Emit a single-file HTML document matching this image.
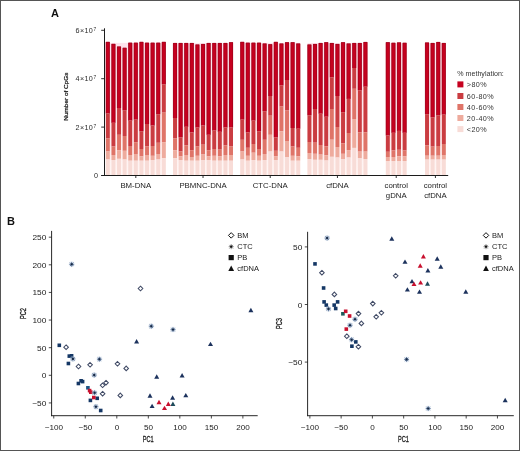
<!DOCTYPE html>
<html><head><meta charset="utf-8"><style>
html,body{margin:0;padding:0;background:#fff;}
svg{display:block;will-change:transform;opacity:0.999;}
text{font-family:"Liberation Sans", sans-serif;}
</style></head><body>
<svg width="520" height="451" viewBox="0 0 520 451">
<defs><linearGradient id="gapg" x1="0" y1="0" x2="0" y2="1"><stop offset="0" stop-color="#fde2ec"/><stop offset="0.55" stop-color="#fdeaee"/><stop offset="1" stop-color="#fff6f4"/></linearGradient></defs>
<rect width="520" height="451" fill="#fff"/>
<rect x="105.85" y="42.90" width="59.95" height="132.10" fill="url(#gapg)"/>
<rect x="173.05" y="43.20" width="59.95" height="131.80" fill="url(#gapg)"/>
<rect x="240.25" y="42.90" width="59.95" height="132.10" fill="url(#gapg)"/>
<rect x="307.45" y="43.00" width="59.95" height="132.00" fill="url(#gapg)"/>
<rect x="385.85" y="43.20" width="20.75" height="131.80" fill="url(#gapg)"/>
<rect x="425.05" y="43.00" width="20.75" height="132.00" fill="url(#gapg)"/>
<rect x="105.85" y="41.90" width="3.95" height="71.60" fill="#c6001f"/>
<rect x="105.85" y="113.50" width="3.95" height="25.00" fill="#ca3c41"/>
<rect x="105.85" y="138.50" width="3.95" height="13.00" fill="#df7468"/>
<rect x="105.85" y="151.50" width="3.95" height="8.00" fill="#eeab9d"/>
<rect x="105.85" y="159.50" width="3.95" height="15.50" fill="#f8dcd7"/>
<path d="M106.15 113.50V42.20H109.50V113.50" fill="none" stroke="#8a0018" stroke-width="0.7" stroke-opacity="0.7"/>
<rect x="111.45" y="43.90" width="3.95" height="78.90" fill="#c6001f"/>
<rect x="111.45" y="122.80" width="3.95" height="23.70" fill="#ca3c41"/>
<rect x="111.45" y="146.50" width="3.95" height="8.50" fill="#df7468"/>
<rect x="111.45" y="155.00" width="3.95" height="5.00" fill="#eeab9d"/>
<rect x="111.45" y="160.00" width="3.95" height="15.00" fill="#f8dcd7"/>
<path d="M111.75 122.80V44.20H115.10V122.80" fill="none" stroke="#8a0018" stroke-width="0.7" stroke-opacity="0.7"/>
<rect x="117.05" y="46.50" width="3.95" height="61.50" fill="#c6001f"/>
<rect x="117.05" y="108.00" width="3.95" height="26.80" fill="#ca3c41"/>
<rect x="117.05" y="134.80" width="3.95" height="15.40" fill="#df7468"/>
<rect x="117.05" y="150.20" width="3.95" height="8.60" fill="#eeab9d"/>
<rect x="117.05" y="158.80" width="3.95" height="16.20" fill="#f8dcd7"/>
<path d="M117.35 108.00V46.80H120.70V108.00" fill="none" stroke="#8a0018" stroke-width="0.7" stroke-opacity="0.7"/>
<rect x="122.65" y="47.80" width="3.95" height="62.40" fill="#c6001f"/>
<rect x="122.65" y="110.20" width="3.95" height="25.80" fill="#ca3c41"/>
<rect x="122.65" y="136.00" width="3.95" height="14.80" fill="#df7468"/>
<rect x="122.65" y="150.80" width="3.95" height="8.70" fill="#eeab9d"/>
<rect x="122.65" y="159.50" width="3.95" height="15.50" fill="#f8dcd7"/>
<path d="M122.95 110.20V48.10H126.30V110.20" fill="none" stroke="#8a0018" stroke-width="0.7" stroke-opacity="0.7"/>
<rect x="128.25" y="42.70" width="3.95" height="77.90" fill="#c6001f"/>
<rect x="128.25" y="120.60" width="3.95" height="25.40" fill="#ca3c41"/>
<rect x="128.25" y="146.00" width="3.95" height="9.00" fill="#df7468"/>
<rect x="128.25" y="155.00" width="3.95" height="5.70" fill="#eeab9d"/>
<rect x="128.25" y="160.70" width="3.95" height="14.30" fill="#f8dcd7"/>
<path d="M128.55 120.60V43.00H131.90V120.60" fill="none" stroke="#8a0018" stroke-width="0.7" stroke-opacity="0.7"/>
<rect x="133.85" y="42.70" width="3.95" height="76.90" fill="#c6001f"/>
<rect x="133.85" y="119.60" width="3.95" height="22.60" fill="#ca3c41"/>
<rect x="133.85" y="142.20" width="3.95" height="11.80" fill="#df7468"/>
<rect x="133.85" y="154.00" width="3.95" height="6.70" fill="#eeab9d"/>
<rect x="133.85" y="160.70" width="3.95" height="14.30" fill="#f8dcd7"/>
<path d="M134.15 119.60V43.00H137.50V119.60" fill="none" stroke="#8a0018" stroke-width="0.7" stroke-opacity="0.7"/>
<rect x="139.45" y="41.90" width="3.95" height="89.30" fill="#c6001f"/>
<rect x="139.45" y="131.20" width="3.95" height="17.80" fill="#ca3c41"/>
<rect x="139.45" y="149.00" width="3.95" height="7.40" fill="#df7468"/>
<rect x="139.45" y="156.40" width="3.95" height="4.30" fill="#eeab9d"/>
<rect x="139.45" y="160.70" width="3.95" height="14.30" fill="#f8dcd7"/>
<path d="M139.75 131.20V42.20H143.10V131.20" fill="none" stroke="#8a0018" stroke-width="0.7" stroke-opacity="0.7"/>
<rect x="145.05" y="42.70" width="3.95" height="81.30" fill="#c6001f"/>
<rect x="145.05" y="124.00" width="3.95" height="22.50" fill="#ca3c41"/>
<rect x="145.05" y="146.50" width="3.95" height="8.50" fill="#df7468"/>
<rect x="145.05" y="155.00" width="3.95" height="5.70" fill="#eeab9d"/>
<rect x="145.05" y="160.70" width="3.95" height="14.30" fill="#f8dcd7"/>
<path d="M145.35 124.00V43.00H148.70V124.00" fill="none" stroke="#8a0018" stroke-width="0.7" stroke-opacity="0.7"/>
<rect x="150.65" y="42.70" width="3.95" height="82.80" fill="#c6001f"/>
<rect x="150.65" y="125.50" width="3.95" height="20.50" fill="#ca3c41"/>
<rect x="150.65" y="146.00" width="3.95" height="9.80" fill="#df7468"/>
<rect x="150.65" y="155.80" width="3.95" height="4.20" fill="#eeab9d"/>
<rect x="150.65" y="160.00" width="3.95" height="15.00" fill="#f8dcd7"/>
<path d="M150.95 125.50V43.00H154.30V125.50" fill="none" stroke="#8a0018" stroke-width="0.7" stroke-opacity="0.7"/>
<rect x="156.25" y="42.70" width="3.95" height="71.50" fill="#c6001f"/>
<rect x="156.25" y="114.20" width="3.95" height="28.60" fill="#ca3c41"/>
<rect x="156.25" y="142.80" width="3.95" height="11.20" fill="#df7468"/>
<rect x="156.25" y="154.00" width="3.95" height="5.50" fill="#eeab9d"/>
<rect x="156.25" y="159.50" width="3.95" height="15.50" fill="#f8dcd7"/>
<path d="M156.55 114.20V43.00H159.90V114.20" fill="none" stroke="#8a0018" stroke-width="0.7" stroke-opacity="0.7"/>
<rect x="161.85" y="41.90" width="3.95" height="42.40" fill="#c6001f"/>
<rect x="161.85" y="84.30" width="3.95" height="28.30" fill="#ca3c41"/>
<rect x="161.85" y="112.60" width="3.95" height="29.60" fill="#df7468"/>
<rect x="161.85" y="142.20" width="3.95" height="16.00" fill="#eeab9d"/>
<rect x="161.85" y="158.20" width="3.95" height="16.80" fill="#f8dcd7"/>
<path d="M162.15 84.30V42.20H165.50V84.30" fill="none" stroke="#8a0018" stroke-width="0.7" stroke-opacity="0.7"/>
<rect x="173.05" y="43.00" width="3.95" height="75.00" fill="#c6001f"/>
<rect x="173.05" y="118.00" width="3.95" height="20.50" fill="#ca3c41"/>
<rect x="173.05" y="138.50" width="3.95" height="11.70" fill="#df7468"/>
<rect x="173.05" y="150.20" width="3.95" height="8.00" fill="#eeab9d"/>
<rect x="173.05" y="158.20" width="3.95" height="16.80" fill="#f8dcd7"/>
<path d="M173.35 118.00V43.30H176.70V118.00" fill="none" stroke="#8a0018" stroke-width="0.7" stroke-opacity="0.7"/>
<rect x="178.65" y="43.00" width="3.95" height="94.30" fill="#c6001f"/>
<rect x="178.65" y="137.30" width="3.95" height="14.20" fill="#ca3c41"/>
<rect x="178.65" y="151.50" width="3.95" height="4.90" fill="#df7468"/>
<rect x="178.65" y="156.40" width="3.95" height="3.60" fill="#eeab9d"/>
<rect x="178.65" y="160.00" width="3.95" height="15.00" fill="#f8dcd7"/>
<path d="M178.95 137.30V43.30H182.30V137.30" fill="none" stroke="#8a0018" stroke-width="0.7" stroke-opacity="0.7"/>
<rect x="184.25" y="43.00" width="3.95" height="83.80" fill="#c6001f"/>
<rect x="184.25" y="126.80" width="3.95" height="18.50" fill="#ca3c41"/>
<rect x="184.25" y="145.30" width="3.95" height="9.70" fill="#df7468"/>
<rect x="184.25" y="155.00" width="3.95" height="5.70" fill="#eeab9d"/>
<rect x="184.25" y="160.70" width="3.95" height="14.30" fill="#f8dcd7"/>
<path d="M184.55 126.80V43.30H187.90V126.80" fill="none" stroke="#8a0018" stroke-width="0.7" stroke-opacity="0.7"/>
<rect x="189.85" y="43.00" width="3.95" height="89.40" fill="#c6001f"/>
<rect x="189.85" y="132.40" width="3.95" height="17.80" fill="#ca3c41"/>
<rect x="189.85" y="150.20" width="3.95" height="6.80" fill="#df7468"/>
<rect x="189.85" y="157.00" width="3.95" height="3.70" fill="#eeab9d"/>
<rect x="189.85" y="160.70" width="3.95" height="14.30" fill="#f8dcd7"/>
<path d="M190.15 132.40V43.30H193.50V132.40" fill="none" stroke="#8a0018" stroke-width="0.7" stroke-opacity="0.7"/>
<rect x="195.45" y="44.50" width="3.95" height="83.00" fill="#c6001f"/>
<rect x="195.45" y="127.50" width="3.95" height="19.00" fill="#ca3c41"/>
<rect x="195.45" y="146.50" width="3.95" height="9.30" fill="#df7468"/>
<rect x="195.45" y="155.80" width="3.95" height="4.90" fill="#eeab9d"/>
<rect x="195.45" y="160.70" width="3.95" height="14.30" fill="#f8dcd7"/>
<path d="M195.75 127.50V44.80H199.10V127.50" fill="none" stroke="#8a0018" stroke-width="0.7" stroke-opacity="0.7"/>
<rect x="201.05" y="44.00" width="3.95" height="81.50" fill="#c6001f"/>
<rect x="201.05" y="125.50" width="3.95" height="19.20" fill="#ca3c41"/>
<rect x="201.05" y="144.70" width="3.95" height="9.80" fill="#df7468"/>
<rect x="201.05" y="154.50" width="3.95" height="5.50" fill="#eeab9d"/>
<rect x="201.05" y="160.00" width="3.95" height="15.00" fill="#f8dcd7"/>
<path d="M201.35 125.50V44.30H204.70V125.50" fill="none" stroke="#8a0018" stroke-width="0.7" stroke-opacity="0.7"/>
<rect x="206.65" y="43.00" width="3.95" height="91.80" fill="#c6001f"/>
<rect x="206.65" y="134.80" width="3.95" height="15.40" fill="#ca3c41"/>
<rect x="206.65" y="150.20" width="3.95" height="6.20" fill="#df7468"/>
<rect x="206.65" y="156.40" width="3.95" height="3.60" fill="#eeab9d"/>
<rect x="206.65" y="160.00" width="3.95" height="15.00" fill="#f8dcd7"/>
<path d="M206.95 134.80V43.30H210.30V134.80" fill="none" stroke="#8a0018" stroke-width="0.7" stroke-opacity="0.7"/>
<rect x="212.25" y="43.00" width="3.95" height="87.50" fill="#c6001f"/>
<rect x="212.25" y="130.50" width="3.95" height="18.50" fill="#ca3c41"/>
<rect x="212.25" y="149.00" width="3.95" height="6.80" fill="#df7468"/>
<rect x="212.25" y="155.80" width="3.95" height="4.90" fill="#eeab9d"/>
<rect x="212.25" y="160.70" width="3.95" height="14.30" fill="#f8dcd7"/>
<path d="M212.55 130.50V43.30H215.90V130.50" fill="none" stroke="#8a0018" stroke-width="0.7" stroke-opacity="0.7"/>
<rect x="217.85" y="43.00" width="3.95" height="88.80" fill="#c6001f"/>
<rect x="217.85" y="131.80" width="3.95" height="17.80" fill="#ca3c41"/>
<rect x="217.85" y="149.60" width="3.95" height="6.80" fill="#df7468"/>
<rect x="217.85" y="156.40" width="3.95" height="4.30" fill="#eeab9d"/>
<rect x="217.85" y="160.70" width="3.95" height="14.30" fill="#f8dcd7"/>
<path d="M218.15 131.80V43.30H221.50V131.80" fill="none" stroke="#8a0018" stroke-width="0.7" stroke-opacity="0.7"/>
<rect x="223.45" y="43.00" width="3.95" height="84.50" fill="#c6001f"/>
<rect x="223.45" y="127.50" width="3.95" height="17.80" fill="#ca3c41"/>
<rect x="223.45" y="145.30" width="3.95" height="9.70" fill="#df7468"/>
<rect x="223.45" y="155.00" width="3.95" height="5.70" fill="#eeab9d"/>
<rect x="223.45" y="160.70" width="3.95" height="14.30" fill="#f8dcd7"/>
<path d="M223.75 127.50V43.30H227.10V127.50" fill="none" stroke="#8a0018" stroke-width="0.7" stroke-opacity="0.7"/>
<rect x="229.05" y="42.20" width="3.95" height="85.30" fill="#c6001f"/>
<rect x="229.05" y="127.50" width="3.95" height="19.00" fill="#ca3c41"/>
<rect x="229.05" y="146.50" width="3.95" height="8.50" fill="#df7468"/>
<rect x="229.05" y="155.00" width="3.95" height="5.70" fill="#eeab9d"/>
<rect x="229.05" y="160.70" width="3.95" height="14.30" fill="#f8dcd7"/>
<path d="M229.35 127.50V42.50H232.70V127.50" fill="none" stroke="#8a0018" stroke-width="0.7" stroke-opacity="0.7"/>
<rect x="240.25" y="41.90" width="3.95" height="77.70" fill="#c6001f"/>
<rect x="240.25" y="119.60" width="3.95" height="20.20" fill="#ca3c41"/>
<rect x="240.25" y="139.80" width="3.95" height="11.70" fill="#df7468"/>
<rect x="240.25" y="151.50" width="3.95" height="8.00" fill="#eeab9d"/>
<rect x="240.25" y="159.50" width="3.95" height="15.50" fill="#f8dcd7"/>
<path d="M240.55 119.60V42.20H243.90V119.60" fill="none" stroke="#8a0018" stroke-width="0.7" stroke-opacity="0.7"/>
<rect x="245.85" y="42.70" width="3.95" height="89.70" fill="#c6001f"/>
<rect x="245.85" y="132.40" width="3.95" height="15.40" fill="#ca3c41"/>
<rect x="245.85" y="147.80" width="3.95" height="8.00" fill="#df7468"/>
<rect x="245.85" y="155.80" width="3.95" height="4.90" fill="#eeab9d"/>
<rect x="245.85" y="160.70" width="3.95" height="14.30" fill="#f8dcd7"/>
<path d="M246.15 132.40V43.00H249.50V132.40" fill="none" stroke="#8a0018" stroke-width="0.7" stroke-opacity="0.7"/>
<rect x="251.45" y="42.70" width="3.95" height="77.90" fill="#c6001f"/>
<rect x="251.45" y="120.60" width="3.95" height="23.40" fill="#ca3c41"/>
<rect x="251.45" y="144.00" width="3.95" height="8.70" fill="#df7468"/>
<rect x="251.45" y="152.70" width="3.95" height="7.30" fill="#eeab9d"/>
<rect x="251.45" y="160.00" width="3.95" height="15.00" fill="#f8dcd7"/>
<path d="M251.75 120.60V43.00H255.10V120.60" fill="none" stroke="#8a0018" stroke-width="0.7" stroke-opacity="0.7"/>
<rect x="257.05" y="42.70" width="3.95" height="88.50" fill="#c6001f"/>
<rect x="257.05" y="131.20" width="3.95" height="17.80" fill="#ca3c41"/>
<rect x="257.05" y="149.00" width="3.95" height="6.80" fill="#df7468"/>
<rect x="257.05" y="155.80" width="3.95" height="4.90" fill="#eeab9d"/>
<rect x="257.05" y="160.70" width="3.95" height="14.30" fill="#f8dcd7"/>
<path d="M257.35 131.20V43.00H260.70V131.20" fill="none" stroke="#8a0018" stroke-width="0.7" stroke-opacity="0.7"/>
<rect x="262.65" y="43.50" width="3.95" height="67.70" fill="#c6001f"/>
<rect x="262.65" y="111.20" width="3.95" height="28.60" fill="#ca3c41"/>
<rect x="262.65" y="139.80" width="3.95" height="14.20" fill="#df7468"/>
<rect x="262.65" y="154.00" width="3.95" height="6.00" fill="#eeab9d"/>
<rect x="262.65" y="160.00" width="3.95" height="15.00" fill="#f8dcd7"/>
<path d="M262.95 111.20V43.80H266.30V111.20" fill="none" stroke="#8a0018" stroke-width="0.7" stroke-opacity="0.7"/>
<rect x="268.25" y="44.20" width="3.95" height="51.80" fill="#c6001f"/>
<rect x="268.25" y="96.00" width="3.95" height="19.70" fill="#ca3c41"/>
<rect x="268.25" y="115.70" width="3.95" height="19.10" fill="#df7468"/>
<rect x="268.25" y="134.80" width="3.95" height="16.70" fill="#eeab9d"/>
<rect x="268.25" y="151.50" width="3.95" height="23.50" fill="#f8dcd7"/>
<path d="M268.55 96.00V44.50H271.90V96.00" fill="none" stroke="#8a0018" stroke-width="0.7" stroke-opacity="0.7"/>
<rect x="273.85" y="41.90" width="3.95" height="95.40" fill="#c6001f"/>
<rect x="273.85" y="137.30" width="3.95" height="13.50" fill="#ca3c41"/>
<rect x="273.85" y="150.80" width="3.95" height="5.60" fill="#df7468"/>
<rect x="273.85" y="156.40" width="3.95" height="3.60" fill="#eeab9d"/>
<rect x="273.85" y="160.00" width="3.95" height="15.00" fill="#f8dcd7"/>
<path d="M274.15 137.30V42.20H277.50V137.30" fill="none" stroke="#8a0018" stroke-width="0.7" stroke-opacity="0.7"/>
<rect x="279.45" y="43.50" width="3.95" height="41.80" fill="#c6001f"/>
<rect x="279.45" y="85.30" width="3.95" height="21.20" fill="#ca3c41"/>
<rect x="279.45" y="106.50" width="3.95" height="24.70" fill="#df7468"/>
<rect x="279.45" y="131.20" width="3.95" height="20.30" fill="#eeab9d"/>
<rect x="279.45" y="151.50" width="3.95" height="23.50" fill="#f8dcd7"/>
<path d="M279.75 85.30V43.80H283.10V85.30" fill="none" stroke="#8a0018" stroke-width="0.7" stroke-opacity="0.7"/>
<rect x="285.05" y="42.20" width="3.95" height="37.80" fill="#c6001f"/>
<rect x="285.05" y="80.00" width="3.95" height="30.50" fill="#ca3c41"/>
<rect x="285.05" y="110.50" width="3.95" height="30.50" fill="#df7468"/>
<rect x="285.05" y="141.00" width="3.95" height="16.00" fill="#eeab9d"/>
<rect x="285.05" y="157.00" width="3.95" height="18.00" fill="#f8dcd7"/>
<path d="M285.35 80.00V42.50H288.70V80.00" fill="none" stroke="#8a0018" stroke-width="0.7" stroke-opacity="0.7"/>
<rect x="290.65" y="42.20" width="3.95" height="85.80" fill="#c6001f"/>
<rect x="290.65" y="128.00" width="3.95" height="18.50" fill="#ca3c41"/>
<rect x="290.65" y="146.50" width="3.95" height="9.30" fill="#df7468"/>
<rect x="290.65" y="155.80" width="3.95" height="4.90" fill="#eeab9d"/>
<rect x="290.65" y="160.70" width="3.95" height="14.30" fill="#f8dcd7"/>
<path d="M290.95 128.00V42.50H294.30V128.00" fill="none" stroke="#8a0018" stroke-width="0.7" stroke-opacity="0.7"/>
<rect x="296.25" y="43.50" width="3.95" height="85.20" fill="#c6001f"/>
<rect x="296.25" y="128.70" width="3.95" height="19.10" fill="#ca3c41"/>
<rect x="296.25" y="147.80" width="3.95" height="8.60" fill="#df7468"/>
<rect x="296.25" y="156.40" width="3.95" height="4.30" fill="#eeab9d"/>
<rect x="296.25" y="160.70" width="3.95" height="14.30" fill="#f8dcd7"/>
<path d="M296.55 128.70V43.80H299.90V128.70" fill="none" stroke="#8a0018" stroke-width="0.7" stroke-opacity="0.7"/>
<rect x="307.45" y="44.50" width="3.95" height="70.70" fill="#c6001f"/>
<rect x="307.45" y="115.20" width="3.95" height="26.80" fill="#ca3c41"/>
<rect x="307.45" y="142.00" width="3.95" height="11.00" fill="#df7468"/>
<rect x="307.45" y="153.00" width="3.95" height="6.00" fill="#eeab9d"/>
<rect x="307.45" y="159.00" width="3.95" height="16.00" fill="#f8dcd7"/>
<path d="M307.75 115.20V44.80H311.10V115.20" fill="none" stroke="#8a0018" stroke-width="0.7" stroke-opacity="0.7"/>
<rect x="313.05" y="44.00" width="3.95" height="65.00" fill="#c6001f"/>
<rect x="313.05" y="109.00" width="3.95" height="33.70" fill="#ca3c41"/>
<rect x="313.05" y="142.70" width="3.95" height="11.10" fill="#df7468"/>
<rect x="313.05" y="153.80" width="3.95" height="6.00" fill="#eeab9d"/>
<rect x="313.05" y="159.80" width="3.95" height="15.20" fill="#f8dcd7"/>
<path d="M313.35 109.00V44.30H316.70V109.00" fill="none" stroke="#8a0018" stroke-width="0.7" stroke-opacity="0.7"/>
<rect x="318.65" y="43.00" width="3.95" height="70.70" fill="#c6001f"/>
<rect x="318.65" y="113.70" width="3.95" height="31.30" fill="#ca3c41"/>
<rect x="318.65" y="145.00" width="3.95" height="9.60" fill="#df7468"/>
<rect x="318.65" y="154.60" width="3.95" height="5.20" fill="#eeab9d"/>
<rect x="318.65" y="159.80" width="3.95" height="15.20" fill="#f8dcd7"/>
<path d="M318.95 113.70V43.30H322.30V113.70" fill="none" stroke="#8a0018" stroke-width="0.7" stroke-opacity="0.7"/>
<rect x="324.25" y="42.20" width="3.95" height="74.50" fill="#c6001f"/>
<rect x="324.25" y="116.70" width="3.95" height="29.70" fill="#ca3c41"/>
<rect x="324.25" y="146.40" width="3.95" height="8.90" fill="#df7468"/>
<rect x="324.25" y="155.30" width="3.95" height="5.20" fill="#eeab9d"/>
<rect x="324.25" y="160.50" width="3.95" height="14.50" fill="#f8dcd7"/>
<path d="M324.55 116.70V42.50H327.90V116.70" fill="none" stroke="#8a0018" stroke-width="0.7" stroke-opacity="0.7"/>
<rect x="329.85" y="43.00" width="3.95" height="34.30" fill="#c6001f"/>
<rect x="329.85" y="77.30" width="3.95" height="31.70" fill="#ca3c41"/>
<rect x="329.85" y="109.00" width="3.95" height="30.70" fill="#df7468"/>
<rect x="329.85" y="139.70" width="3.95" height="17.10" fill="#eeab9d"/>
<rect x="329.85" y="156.80" width="3.95" height="18.20" fill="#f8dcd7"/>
<path d="M330.15 77.30V43.30H333.50V77.30" fill="none" stroke="#8a0018" stroke-width="0.7" stroke-opacity="0.7"/>
<rect x="335.45" y="44.00" width="3.95" height="52.00" fill="#c6001f"/>
<rect x="335.45" y="96.00" width="3.95" height="31.00" fill="#ca3c41"/>
<rect x="335.45" y="127.00" width="3.95" height="20.00" fill="#df7468"/>
<rect x="335.45" y="147.00" width="3.95" height="10.50" fill="#eeab9d"/>
<rect x="335.45" y="157.50" width="3.95" height="17.50" fill="#f8dcd7"/>
<path d="M335.75 96.00V44.30H339.10V96.00" fill="none" stroke="#8a0018" stroke-width="0.7" stroke-opacity="0.7"/>
<rect x="341.05" y="42.20" width="3.95" height="70.00" fill="#c6001f"/>
<rect x="341.05" y="112.20" width="3.95" height="31.20" fill="#ca3c41"/>
<rect x="341.05" y="143.40" width="3.95" height="10.40" fill="#df7468"/>
<rect x="341.05" y="153.80" width="3.95" height="5.20" fill="#eeab9d"/>
<rect x="341.05" y="159.00" width="3.95" height="16.00" fill="#f8dcd7"/>
<path d="M341.35 112.20V42.50H344.70V112.20" fill="none" stroke="#8a0018" stroke-width="0.7" stroke-opacity="0.7"/>
<rect x="346.65" y="43.50" width="3.95" height="55.40" fill="#c6001f"/>
<rect x="346.65" y="98.90" width="3.95" height="34.10" fill="#ca3c41"/>
<rect x="346.65" y="133.00" width="3.95" height="17.10" fill="#df7468"/>
<rect x="346.65" y="150.10" width="3.95" height="7.40" fill="#eeab9d"/>
<rect x="346.65" y="157.50" width="3.95" height="17.50" fill="#f8dcd7"/>
<path d="M346.95 98.90V43.80H350.30V98.90" fill="none" stroke="#8a0018" stroke-width="0.7" stroke-opacity="0.7"/>
<rect x="352.25" y="43.00" width="3.95" height="25.00" fill="#c6001f"/>
<rect x="352.25" y="68.00" width="3.95" height="20.80" fill="#ca3c41"/>
<rect x="352.25" y="88.80" width="3.95" height="30.20" fill="#df7468"/>
<rect x="352.25" y="119.00" width="3.95" height="28.90" fill="#eeab9d"/>
<rect x="352.25" y="147.90" width="3.95" height="27.10" fill="#f8dcd7"/>
<path d="M352.55 68.00V43.30H355.90V68.00" fill="none" stroke="#8a0018" stroke-width="0.7" stroke-opacity="0.7"/>
<rect x="357.85" y="43.00" width="3.95" height="47.30" fill="#c6001f"/>
<rect x="357.85" y="90.30" width="3.95" height="42.00" fill="#ca3c41"/>
<rect x="357.85" y="132.30" width="3.95" height="19.30" fill="#df7468"/>
<rect x="357.85" y="151.60" width="3.95" height="6.70" fill="#eeab9d"/>
<rect x="357.85" y="158.30" width="3.95" height="16.70" fill="#f8dcd7"/>
<path d="M358.15 90.30V43.30H361.50V90.30" fill="none" stroke="#8a0018" stroke-width="0.7" stroke-opacity="0.7"/>
<rect x="363.45" y="42.00" width="3.95" height="44.70" fill="#c6001f"/>
<rect x="363.45" y="86.70" width="3.95" height="45.60" fill="#ca3c41"/>
<rect x="363.45" y="132.30" width="3.95" height="19.30" fill="#df7468"/>
<rect x="363.45" y="151.60" width="3.95" height="7.40" fill="#eeab9d"/>
<rect x="363.45" y="159.00" width="3.95" height="16.00" fill="#f8dcd7"/>
<path d="M363.75 86.70V42.30H367.10V86.70" fill="none" stroke="#8a0018" stroke-width="0.7" stroke-opacity="0.7"/>
<rect x="385.85" y="42.20" width="3.95" height="93.30" fill="#c6001f"/>
<rect x="385.85" y="135.50" width="3.95" height="16.30" fill="#ca3c41"/>
<rect x="385.85" y="151.80" width="3.95" height="5.20" fill="#df7468"/>
<rect x="385.85" y="157.00" width="3.95" height="4.00" fill="#eeab9d"/>
<rect x="385.85" y="161.00" width="3.95" height="14.00" fill="#f8dcd7"/>
<path d="M386.15 135.50V42.50H389.50V135.50" fill="none" stroke="#8a0018" stroke-width="0.7" stroke-opacity="0.7"/>
<rect x="391.45" y="42.80" width="3.95" height="90.00" fill="#c6001f"/>
<rect x="391.45" y="132.80" width="3.95" height="17.70" fill="#ca3c41"/>
<rect x="391.45" y="150.50" width="3.95" height="6.50" fill="#df7468"/>
<rect x="391.45" y="157.00" width="3.95" height="4.00" fill="#eeab9d"/>
<rect x="391.45" y="161.00" width="3.95" height="14.00" fill="#f8dcd7"/>
<path d="M391.75 132.80V43.10H395.10V132.80" fill="none" stroke="#8a0018" stroke-width="0.7" stroke-opacity="0.7"/>
<rect x="397.05" y="42.40" width="3.95" height="88.50" fill="#c6001f"/>
<rect x="397.05" y="130.90" width="3.95" height="18.90" fill="#ca3c41"/>
<rect x="397.05" y="149.80" width="3.95" height="6.60" fill="#df7468"/>
<rect x="397.05" y="156.40" width="3.95" height="4.60" fill="#eeab9d"/>
<rect x="397.05" y="161.00" width="3.95" height="14.00" fill="#f8dcd7"/>
<path d="M397.35 130.90V42.70H400.70V130.90" fill="none" stroke="#8a0018" stroke-width="0.7" stroke-opacity="0.7"/>
<rect x="402.65" y="42.80" width="3.95" height="90.00" fill="#c6001f"/>
<rect x="402.65" y="132.80" width="3.95" height="17.70" fill="#ca3c41"/>
<rect x="402.65" y="150.50" width="3.95" height="5.90" fill="#df7468"/>
<rect x="402.65" y="156.40" width="3.95" height="4.60" fill="#eeab9d"/>
<rect x="402.65" y="161.00" width="3.95" height="14.00" fill="#f8dcd7"/>
<path d="M402.95 132.80V43.10H406.30V132.80" fill="none" stroke="#8a0018" stroke-width="0.7" stroke-opacity="0.7"/>
<rect x="425.05" y="42.50" width="3.95" height="71.70" fill="#c6001f"/>
<rect x="425.05" y="114.20" width="3.95" height="31.10" fill="#ca3c41"/>
<rect x="425.05" y="145.30" width="3.95" height="10.40" fill="#df7468"/>
<rect x="425.05" y="155.70" width="3.95" height="3.90" fill="#eeab9d"/>
<rect x="425.05" y="159.60" width="3.95" height="15.40" fill="#f8dcd7"/>
<path d="M425.35 114.20V42.80H428.70V114.20" fill="none" stroke="#8a0018" stroke-width="0.7" stroke-opacity="0.7"/>
<rect x="430.65" y="43.00" width="3.95" height="74.30" fill="#c6001f"/>
<rect x="430.65" y="117.30" width="3.95" height="29.30" fill="#ca3c41"/>
<rect x="430.65" y="146.60" width="3.95" height="9.10" fill="#df7468"/>
<rect x="430.65" y="155.70" width="3.95" height="3.90" fill="#eeab9d"/>
<rect x="430.65" y="159.60" width="3.95" height="15.40" fill="#f8dcd7"/>
<path d="M430.95 117.30V43.30H434.30V117.30" fill="none" stroke="#8a0018" stroke-width="0.7" stroke-opacity="0.7"/>
<rect x="436.25" y="42.00" width="3.95" height="73.30" fill="#c6001f"/>
<rect x="436.25" y="115.30" width="3.95" height="30.70" fill="#ca3c41"/>
<rect x="436.25" y="146.00" width="3.95" height="9.70" fill="#df7468"/>
<rect x="436.25" y="155.70" width="3.95" height="3.90" fill="#eeab9d"/>
<rect x="436.25" y="159.60" width="3.95" height="15.40" fill="#f8dcd7"/>
<path d="M436.55 115.30V42.30H439.90V115.30" fill="none" stroke="#8a0018" stroke-width="0.7" stroke-opacity="0.7"/>
<rect x="441.85" y="43.00" width="3.95" height="71.60" fill="#c6001f"/>
<rect x="441.85" y="114.60" width="3.95" height="29.40" fill="#ca3c41"/>
<rect x="441.85" y="144.00" width="3.95" height="11.00" fill="#df7468"/>
<rect x="441.85" y="155.00" width="3.95" height="4.60" fill="#eeab9d"/>
<rect x="441.85" y="159.60" width="3.95" height="15.40" fill="#f8dcd7"/>
<path d="M442.15 114.60V43.30H445.50V114.60" fill="none" stroke="#8a0018" stroke-width="0.7" stroke-opacity="0.7"/>
<line x1="104.5" y1="28.3" x2="104.5" y2="175.5" stroke="#1c1c1c" stroke-width="1"/>
<line x1="101.2" y1="175.5" x2="448.2" y2="175.5" stroke="#1c1c1c" stroke-width="1"/>
<line x1="101.2" y1="30.30" x2="104.5" y2="30.30" stroke="#1c1c1c" stroke-width="0.9"/>
<text x="93.0" y="32.70" font-size="7.2" letter-spacing="0.3" text-anchor="end" fill="#2a2a2a">6×10</text>
<text x="93.4" y="30.80" font-size="4.8" fill="#2a2a2a">7</text>
<line x1="101.2" y1="78.70" x2="104.5" y2="78.70" stroke="#1c1c1c" stroke-width="0.9"/>
<text x="93.0" y="81.10" font-size="7.2" letter-spacing="0.3" text-anchor="end" fill="#2a2a2a">4×10</text>
<text x="93.4" y="79.20" font-size="4.8" fill="#2a2a2a">7</text>
<line x1="101.2" y1="127.10" x2="104.5" y2="127.10" stroke="#1c1c1c" stroke-width="0.9"/>
<text x="93.0" y="129.50" font-size="7.2" letter-spacing="0.3" text-anchor="end" fill="#2a2a2a">2×10</text>
<text x="93.4" y="127.60" font-size="4.8" fill="#2a2a2a">7</text>
<line x1="101.2" y1="175.50" x2="104.5" y2="175.50" stroke="#1c1c1c" stroke-width="0.9"/>
<text x="97.9" y="177.90" font-size="7.2" text-anchor="end" fill="#2a2a2a">0</text>
<line x1="135.82" y1="175.5" x2="135.82" y2="178" stroke="#1c1c1c" stroke-width="0.9"/>
<line x1="203.02" y1="175.5" x2="203.02" y2="178" stroke="#1c1c1c" stroke-width="0.9"/>
<line x1="270.23" y1="175.5" x2="270.23" y2="178" stroke="#1c1c1c" stroke-width="0.9"/>
<line x1="337.43" y1="175.5" x2="337.43" y2="178" stroke="#1c1c1c" stroke-width="0.9"/>
<line x1="396.23" y1="175.5" x2="396.23" y2="178" stroke="#1c1c1c" stroke-width="0.9"/>
<line x1="435.42" y1="175.5" x2="435.42" y2="178" stroke="#1c1c1c" stroke-width="0.9"/>
<text x="135.82" y="188.2" font-size="7.8" text-anchor="middle" fill="#222">BM-DNA</text>
<text x="203.02" y="188.2" font-size="7.8" text-anchor="middle" fill="#222">PBMNC-DNA</text>
<text x="270.23" y="188.2" font-size="7.8" text-anchor="middle" fill="#222">CTC-DNA</text>
<text x="337.43" y="188.2" font-size="7.8" text-anchor="middle" fill="#222">cfDNA</text>
<text x="396.23" y="188.2" font-size="7.8" text-anchor="middle" fill="#222">control</text>
<text x="396.23" y="197.9" font-size="7.8" text-anchor="middle" fill="#222">gDNA</text>
<text x="435.42" y="188.2" font-size="7.8" text-anchor="middle" fill="#222">control</text>
<text x="435.42" y="197.9" font-size="7.8" text-anchor="middle" fill="#222">cfDNA</text>
<text transform="translate(68.4,96.6) rotate(-90) scale(1.04,1)" font-size="6.2" text-anchor="middle" fill="#111" stroke="#111" stroke-width="0.22">Number of CpGs</text>
<text x="457.3" y="75.6" font-size="7.1" fill="#333">% methylation:</text>
<rect x="457.4" y="81.40" width="6" height="6" fill="#c6001f"/>
<text x="466.8" y="87.00" font-size="7.2" letter-spacing="0.42" fill="#333">&gt;80%</text>
<rect x="457.4" y="93.00" width="6" height="6" fill="#ca3c41"/>
<text x="466.8" y="98.60" font-size="7.2" letter-spacing="0.42" fill="#333">60-80%</text>
<rect x="457.4" y="104.00" width="6" height="6" fill="#df7468"/>
<text x="466.8" y="109.60" font-size="7.2" letter-spacing="0.42" fill="#333">40-60%</text>
<rect x="457.4" y="115.00" width="6" height="6" fill="#eeab9d"/>
<text x="466.8" y="120.60" font-size="7.2" letter-spacing="0.42" fill="#333">20-40%</text>
<rect x="457.4" y="126.10" width="6" height="6" fill="#f8dcd7"/>
<text x="466.8" y="131.70" font-size="7.2" letter-spacing="0.42" fill="#333">&lt;20%</text>
<text x="51.0" y="16.8" font-size="11" font-weight="bold" fill="#111">A</text>
<text x="6.9" y="224.8" font-size="11" font-weight="bold" fill="#111">B</text>
<line x1="51.6" y1="230.9" x2="51.6" y2="416.15" stroke="#1c1c1c" stroke-width="0.95"/>
<line x1="51.15" y1="415.7" x2="257.7" y2="415.7" stroke="#1c1c1c" stroke-width="0.95"/>
<line x1="48.800000000000004" y1="237.18" x2="51.6" y2="237.18" stroke="#1c1c1c" stroke-width="0.8"/>
<text transform="translate(46.30,240.18) scale(1.13,1)" font-size="7.4" text-anchor="end" fill="#222">250</text>
<line x1="48.800000000000004" y1="264.80" x2="51.6" y2="264.80" stroke="#1c1c1c" stroke-width="0.8"/>
<text transform="translate(46.30,267.80) scale(1.13,1)" font-size="7.4" text-anchor="end" fill="#222">200</text>
<line x1="48.800000000000004" y1="292.43" x2="51.6" y2="292.43" stroke="#1c1c1c" stroke-width="0.8"/>
<text transform="translate(46.30,295.43) scale(1.13,1)" font-size="7.4" text-anchor="end" fill="#222">150</text>
<line x1="48.800000000000004" y1="320.05" x2="51.6" y2="320.05" stroke="#1c1c1c" stroke-width="0.8"/>
<text transform="translate(46.30,323.05) scale(1.13,1)" font-size="7.4" text-anchor="end" fill="#222">100</text>
<line x1="48.800000000000004" y1="347.68" x2="51.6" y2="347.68" stroke="#1c1c1c" stroke-width="0.8"/>
<text transform="translate(46.30,350.68) scale(1.13,1)" font-size="7.4" text-anchor="end" fill="#222">50</text>
<line x1="48.800000000000004" y1="375.30" x2="51.6" y2="375.30" stroke="#1c1c1c" stroke-width="0.8"/>
<text transform="translate(46.30,378.30) scale(1.13,1)" font-size="7.4" text-anchor="end" fill="#222">0</text>
<line x1="48.800000000000004" y1="402.93" x2="51.6" y2="402.93" stroke="#1c1c1c" stroke-width="0.8"/>
<text transform="translate(46.30,405.93) scale(1.13,1)" font-size="7.4" text-anchor="end" fill="#222">−50</text>
<line x1="53.76" y1="415.7" x2="53.76" y2="418.5" stroke="#1c1c1c" stroke-width="0.8"/>
<text transform="translate(53.86,429.50) scale(1.1,1)" font-size="7.4" text-anchor="middle" fill="#222">−100</text>
<line x1="85.28" y1="415.7" x2="85.28" y2="418.5" stroke="#1c1c1c" stroke-width="0.8"/>
<text transform="translate(85.38,429.50) scale(1.1,1)" font-size="7.4" text-anchor="middle" fill="#222">−50</text>
<line x1="116.80" y1="415.7" x2="116.80" y2="418.5" stroke="#1c1c1c" stroke-width="0.8"/>
<text transform="translate(116.90,429.50) scale(1.1,1)" font-size="7.4" text-anchor="middle" fill="#222">0</text>
<line x1="148.32" y1="415.7" x2="148.32" y2="418.5" stroke="#1c1c1c" stroke-width="0.8"/>
<text transform="translate(148.42,429.50) scale(1.1,1)" font-size="7.4" text-anchor="middle" fill="#222">50</text>
<line x1="179.84" y1="415.7" x2="179.84" y2="418.5" stroke="#1c1c1c" stroke-width="0.8"/>
<text transform="translate(179.94,429.50) scale(1.1,1)" font-size="7.4" text-anchor="middle" fill="#222">100</text>
<line x1="211.36" y1="415.7" x2="211.36" y2="418.5" stroke="#1c1c1c" stroke-width="0.8"/>
<text transform="translate(211.46,429.50) scale(1.1,1)" font-size="7.4" text-anchor="middle" fill="#222">150</text>
<line x1="242.88" y1="415.7" x2="242.88" y2="418.5" stroke="#1c1c1c" stroke-width="0.8"/>
<text transform="translate(242.98,429.50) scale(1.1,1)" font-size="7.4" text-anchor="middle" fill="#222">200</text>
<text transform="translate(148.12,441.9) scale(0.6,1)" font-size="9.4" text-anchor="middle" fill="#1a1a1a" stroke="#1a1a1a" stroke-width="0.3">PC1</text>
<text transform="translate(25.9,313.5) rotate(-90) scale(0.6,1)" font-size="9.4" text-anchor="middle" fill="#1a1a1a" stroke="#1a1a1a" stroke-width="0.3">PC2</text>
<line x1="307.6" y1="231.8" x2="307.6" y2="416.15" stroke="#1c1c1c" stroke-width="0.95"/>
<line x1="307.15000000000003" y1="415.7" x2="513.8" y2="415.7" stroke="#1c1c1c" stroke-width="0.95"/>
<line x1="304.8" y1="246.90" x2="307.6" y2="246.90" stroke="#1c1c1c" stroke-width="0.8"/>
<text transform="translate(302.30,249.90) scale(1.13,1)" font-size="7.4" text-anchor="end" fill="#222">50</text>
<line x1="304.8" y1="304.50" x2="307.6" y2="304.50" stroke="#1c1c1c" stroke-width="0.8"/>
<text transform="translate(302.30,307.50) scale(1.13,1)" font-size="7.4" text-anchor="end" fill="#222">0</text>
<line x1="304.8" y1="362.10" x2="307.6" y2="362.10" stroke="#1c1c1c" stroke-width="0.8"/>
<text transform="translate(302.30,365.10) scale(1.13,1)" font-size="7.4" text-anchor="end" fill="#222">−50</text>
<line x1="309.88" y1="415.7" x2="309.88" y2="418.5" stroke="#1c1c1c" stroke-width="0.8"/>
<text transform="translate(309.98,429.50) scale(1.1,1)" font-size="7.4" text-anchor="middle" fill="#222">−100</text>
<line x1="341.14" y1="415.7" x2="341.14" y2="418.5" stroke="#1c1c1c" stroke-width="0.8"/>
<text transform="translate(341.24,429.50) scale(1.1,1)" font-size="7.4" text-anchor="middle" fill="#222">−50</text>
<line x1="372.40" y1="415.7" x2="372.40" y2="418.5" stroke="#1c1c1c" stroke-width="0.8"/>
<text transform="translate(372.50,429.50) scale(1.1,1)" font-size="7.4" text-anchor="middle" fill="#222">0</text>
<line x1="403.66" y1="415.7" x2="403.66" y2="418.5" stroke="#1c1c1c" stroke-width="0.8"/>
<text transform="translate(403.76,429.50) scale(1.1,1)" font-size="7.4" text-anchor="middle" fill="#222">50</text>
<line x1="434.92" y1="415.7" x2="434.92" y2="418.5" stroke="#1c1c1c" stroke-width="0.8"/>
<text transform="translate(435.02,429.50) scale(1.1,1)" font-size="7.4" text-anchor="middle" fill="#222">100</text>
<line x1="466.18" y1="415.7" x2="466.18" y2="418.5" stroke="#1c1c1c" stroke-width="0.8"/>
<text transform="translate(466.28,429.50) scale(1.1,1)" font-size="7.4" text-anchor="middle" fill="#222">150</text>
<line x1="497.44" y1="415.7" x2="497.44" y2="418.5" stroke="#1c1c1c" stroke-width="0.8"/>
<text transform="translate(497.54,429.50) scale(1.1,1)" font-size="7.4" text-anchor="middle" fill="#222">200</text>
<text transform="translate(403.46,441.9) scale(0.6,1)" font-size="9.4" text-anchor="middle" fill="#1a1a1a" stroke="#1a1a1a" stroke-width="0.3">PC1</text>
<text transform="translate(281.8,323.6) rotate(-90) scale(0.6,1)" font-size="9.4" text-anchor="middle" fill="#1a1a1a" stroke="#1a1a1a" stroke-width="0.3">PC3</text>
<path d="M231.20 232.65L233.95 235.40L231.20 238.15L228.45 235.40Z" fill="#fff" stroke="#111" stroke-width="1.0"/>
<path d="M228.70 246.70L233.70 246.70M229.43 244.93L232.97 248.47M231.20 244.20L231.20 249.20M232.97 244.93L229.43 248.47" stroke="#666" stroke-width="0.8" fill="none"/>
<circle cx="231.20" cy="246.70" r="1.1" fill="#111"/>
<rect x="228.60" y="255.00" width="5.2" height="5.2" fill="#111"/>
<path d="M231.20 265.56L234.10 270.96L228.30 270.96Z" fill="#111"/>
<text x="237.3" y="237.60" font-size="7.5" fill="#1a1a1a">BM</text>
<text x="237.3" y="248.70" font-size="7.5" fill="#1a1a1a">CTC</text>
<text x="237.3" y="259.80" font-size="7.5" fill="#1a1a1a">PB</text>
<text x="237.3" y="270.80" font-size="7.5" fill="#1a1a1a">cfDNA</text>
<path d="M486.00 232.65L488.75 235.40L486.00 238.15L483.25 235.40Z" fill="#fff" stroke="#111" stroke-width="1.0"/>
<path d="M483.50 246.70L488.50 246.70M484.23 244.93L487.77 248.47M486.00 244.20L486.00 249.20M487.77 244.93L484.23 248.47" stroke="#666" stroke-width="0.8" fill="none"/>
<circle cx="486.00" cy="246.70" r="1.1" fill="#111"/>
<rect x="483.40" y="255.00" width="5.2" height="5.2" fill="#111"/>
<path d="M486.00 265.56L488.90 270.96L483.10 270.96Z" fill="#111"/>
<text x="492.0" y="237.60" font-size="7.5" fill="#1a1a1a">BM</text>
<text x="492.0" y="248.70" font-size="7.5" fill="#1a1a1a">CTC</text>
<text x="492.0" y="259.80" font-size="7.5" fill="#1a1a1a">PB</text>
<text x="492.0" y="270.80" font-size="7.5" fill="#1a1a1a">cfDNA</text>
<path d="M140.50 286.20L142.80 288.50L140.50 290.80L138.20 288.50Z" fill="#fff" stroke="#414b66" stroke-width="1.05"/>
<path d="M66.10 344.90L68.40 347.20L66.10 349.50L63.80 347.20Z" fill="#fff" stroke="#414b66" stroke-width="1.05"/>
<path d="M78.50 364.20L80.80 366.50L78.50 368.80L76.20 366.50Z" fill="#fff" stroke="#414b66" stroke-width="1.05"/>
<path d="M90.10 362.50L92.40 364.80L90.10 367.10L87.80 364.80Z" fill="#fff" stroke="#414b66" stroke-width="1.05"/>
<path d="M117.50 361.50L119.80 363.80L117.50 366.10L115.20 363.80Z" fill="#fff" stroke="#414b66" stroke-width="1.05"/>
<path d="M126.20 366.10L128.50 368.40L126.20 370.70L123.90 368.40Z" fill="#fff" stroke="#414b66" stroke-width="1.05"/>
<path d="M102.60 383.00L104.90 385.30L102.60 387.60L100.30 385.30Z" fill="#fff" stroke="#414b66" stroke-width="1.05"/>
<path d="M106.00 380.40L108.30 382.70L106.00 385.00L103.70 382.70Z" fill="#fff" stroke="#414b66" stroke-width="1.05"/>
<path d="M102.60 391.40L104.90 393.70L102.60 396.00L100.30 393.70Z" fill="#fff" stroke="#414b66" stroke-width="1.05"/>
<path d="M120.30 393.10L122.60 395.40L120.30 397.70L118.00 395.40Z" fill="#fff" stroke="#414b66" stroke-width="1.05"/>
<rect x="57.50" y="343.50" width="3.6" height="3.6" fill="#143765"/>
<rect x="67.50" y="354.30" width="3.6" height="3.6" fill="#143765"/>
<rect x="69.80" y="354.00" width="3.6" height="3.6" fill="#143765"/>
<rect x="66.60" y="361.70" width="3.6" height="3.6" fill="#143765"/>
<rect x="76.60" y="381.70" width="3.6" height="3.6" fill="#143765"/>
<rect x="79.30" y="379.00" width="3.6" height="3.6" fill="#143765"/>
<rect x="80.80" y="379.80" width="3.6" height="3.6" fill="#143765"/>
<rect x="95.40" y="396.50" width="3.6" height="3.6" fill="#143765"/>
<rect x="88.60" y="398.60" width="3.6" height="3.6" fill="#143765"/>
<rect x="98.90" y="408.70" width="3.6" height="3.6" fill="#143765"/>
<rect x="86.10" y="386.00" width="3.6" height="3.6" fill="#1d5585"/>
<rect x="87.80" y="388.80" width="3.6" height="3.6" fill="#c8102e"/>
<rect x="89.00" y="390.40" width="3.6" height="3.6" fill="#c8102e"/>
<rect x="92.00" y="395.70" width="3.6" height="3.6" fill="#c8102e"/>
<circle cx="71.70" cy="264.30" r="3.0" fill="#cfdcec" opacity="0.4"/>
<path d="M69.30 264.30L74.10 264.30M70.00 262.60L73.40 266.00M71.70 261.90L71.70 266.70M73.40 262.60L70.00 266.00" stroke="#3d5c88" stroke-width="0.8" fill="none"/>
<circle cx="71.70" cy="264.30" r="1.05" fill="#16263e"/>
<circle cx="72.90" cy="358.90" r="3.0" fill="#cfdcec" opacity="0.4"/>
<path d="M70.50 358.90L75.30 358.90M71.20 357.20L74.60 360.60M72.90 356.50L72.90 361.30M74.60 357.20L71.20 360.60" stroke="#3d5c88" stroke-width="0.8" fill="none"/>
<circle cx="72.90" cy="358.90" r="1.05" fill="#16263e"/>
<circle cx="99.40" cy="359.20" r="3.0" fill="#cfdcec" opacity="0.4"/>
<path d="M97.00 359.20L101.80 359.20M97.70 357.50L101.10 360.90M99.40 356.80L99.40 361.60M101.10 357.50L97.70 360.90" stroke="#3d5c88" stroke-width="0.8" fill="none"/>
<circle cx="99.40" cy="359.20" r="1.05" fill="#16263e"/>
<circle cx="94.20" cy="375.10" r="3.0" fill="#cfdcec" opacity="0.4"/>
<path d="M91.80 375.10L96.60 375.10M92.50 373.40L95.90 376.80M94.20 372.70L94.20 377.50M95.90 373.40L92.50 376.80" stroke="#3d5c88" stroke-width="0.8" fill="none"/>
<circle cx="94.20" cy="375.10" r="1.05" fill="#16263e"/>
<circle cx="94.60" cy="392.80" r="3.0" fill="#cfdcec" opacity="0.4"/>
<path d="M92.20 392.80L97.00 392.80M92.90 391.10L96.30 394.50M94.60 390.40L94.60 395.20M96.30 391.10L92.90 394.50" stroke="#3d5c88" stroke-width="0.8" fill="none"/>
<circle cx="94.60" cy="392.80" r="1.05" fill="#16263e"/>
<circle cx="95.90" cy="406.70" r="3.0" fill="#cfdcec" opacity="0.4"/>
<path d="M93.50 406.70L98.30 406.70M94.20 405.00L97.60 408.40M95.90 404.30L95.90 409.10M97.60 405.00L94.20 408.40" stroke="#3d5c88" stroke-width="0.8" fill="none"/>
<circle cx="95.90" cy="406.70" r="1.05" fill="#16263e"/>
<circle cx="151.30" cy="326.20" r="3.0" fill="#cfdcec" opacity="0.4"/>
<path d="M148.90 326.20L153.70 326.20M149.60 324.50L153.00 327.90M151.30 323.80L151.30 328.60M153.00 324.50L149.60 327.90" stroke="#3d5c88" stroke-width="0.8" fill="none"/>
<circle cx="151.30" cy="326.20" r="1.05" fill="#16263e"/>
<circle cx="173.00" cy="329.60" r="3.0" fill="#cfdcec" opacity="0.4"/>
<path d="M170.60 329.60L175.40 329.60M171.30 327.90L174.70 331.30M173.00 327.20L173.00 332.00M174.70 327.90L171.30 331.30" stroke="#3d5c88" stroke-width="0.8" fill="none"/>
<circle cx="173.00" cy="329.60" r="1.05" fill="#16263e"/>
<path d="M136.60 339.06L139.10 343.46L134.10 343.46Z" fill="#1c325d"/>
<path d="M210.50 341.66L213.00 346.06L208.00 346.06Z" fill="#1c325d"/>
<path d="M250.90 307.86L253.40 312.26L248.40 312.26Z" fill="#1c325d"/>
<path d="M156.70 374.26L159.20 378.66L154.20 378.66Z" fill="#1c325d"/>
<path d="M182.10 373.06L184.60 377.46L179.60 377.46Z" fill="#1c325d"/>
<path d="M150.00 393.26L152.50 397.66L147.50 397.66Z" fill="#1c325d"/>
<path d="M172.60 395.26L175.10 399.66L170.10 399.66Z" fill="#1c325d"/>
<path d="M185.80 392.96L188.30 397.36L183.30 397.36Z" fill="#1c325d"/>
<path d="M152.10 403.66L154.60 408.06L149.60 408.06Z" fill="#1c325d"/>
<path d="M172.90 401.56L175.40 405.96L170.40 405.96Z" fill="#1d4a5a"/>
<path d="M159.00 399.86L161.50 404.26L156.50 404.26Z" fill="#c8102e"/>
<path d="M168.30 401.56L170.80 405.96L165.80 405.96Z" fill="#c8102e"/>
<path d="M164.50 405.66L167.00 410.06L162.00 410.06Z" fill="#c8102e"/>
<path d="M321.90 270.40L324.20 272.70L321.90 275.00L319.60 272.70Z" fill="#fff" stroke="#414b66" stroke-width="1.05"/>
<path d="M334.40 292.10L336.70 294.40L334.40 296.70L332.10 294.40Z" fill="#fff" stroke="#414b66" stroke-width="1.05"/>
<path d="M358.50 311.30L360.80 313.60L358.50 315.90L356.20 313.60Z" fill="#fff" stroke="#414b66" stroke-width="1.05"/>
<path d="M361.40 321.10L363.70 323.40L361.40 325.70L359.10 323.40Z" fill="#fff" stroke="#414b66" stroke-width="1.05"/>
<path d="M346.80 333.90L349.10 336.20L346.80 338.50L344.50 336.20Z" fill="#fff" stroke="#414b66" stroke-width="1.05"/>
<path d="M358.40 344.40L360.70 346.70L358.40 349.00L356.10 346.70Z" fill="#fff" stroke="#414b66" stroke-width="1.05"/>
<path d="M372.80 301.30L375.10 303.60L372.80 305.90L370.50 303.60Z" fill="#fff" stroke="#414b66" stroke-width="1.05"/>
<path d="M381.40 310.50L383.70 312.80L381.40 315.10L379.10 312.80Z" fill="#fff" stroke="#414b66" stroke-width="1.05"/>
<path d="M376.20 314.50L378.50 316.80L376.20 319.10L373.90 316.80Z" fill="#fff" stroke="#414b66" stroke-width="1.05"/>
<path d="M395.70 273.50L398.00 275.80L395.70 278.10L393.40 275.80Z" fill="#fff" stroke="#414b66" stroke-width="1.05"/>
<rect x="313.20" y="262.10" width="3.6" height="3.6" fill="#143765"/>
<rect x="321.80" y="286.20" width="3.6" height="3.6" fill="#143765"/>
<rect x="322.30" y="300.10" width="3.6" height="3.6" fill="#143765"/>
<rect x="324.50" y="303.30" width="3.6" height="3.6" fill="#143765"/>
<rect x="335.80" y="300.10" width="3.6" height="3.6" fill="#143765"/>
<rect x="332.40" y="303.30" width="3.6" height="3.6" fill="#143765"/>
<rect x="333.90" y="306.70" width="3.6" height="3.6" fill="#143765"/>
<rect x="354.00" y="340.10" width="3.6" height="3.6" fill="#143765"/>
<rect x="350.10" y="344.40" width="3.6" height="3.6" fill="#143765"/>
<rect x="341.10" y="312.00" width="3.6" height="3.6" fill="#1d5a5a"/>
<rect x="343.90" y="309.50" width="3.6" height="3.6" fill="#c8102e"/>
<rect x="347.80" y="314.20" width="3.6" height="3.6" fill="#c8102e"/>
<rect x="344.50" y="327.30" width="3.6" height="3.6" fill="#c8102e"/>
<circle cx="327.10" cy="238.10" r="3.0" fill="#cfdcec" opacity="0.4"/>
<path d="M324.70 238.10L329.50 238.10M325.40 236.40L328.80 239.80M327.10 235.70L327.10 240.50M328.80 236.40L325.40 239.80" stroke="#3d5c88" stroke-width="0.8" fill="none"/>
<circle cx="327.10" cy="238.10" r="1.05" fill="#16263e"/>
<circle cx="328.50" cy="308.90" r="3.0" fill="#cfdcec" opacity="0.4"/>
<path d="M326.10 308.90L330.90 308.90M326.80 307.20L330.20 310.60M328.50 306.50L328.50 311.30M330.20 307.20L326.80 310.60" stroke="#3d5c88" stroke-width="0.8" fill="none"/>
<circle cx="328.50" cy="308.90" r="1.05" fill="#16263e"/>
<circle cx="355.00" cy="319.30" r="3.0" fill="#cfdcec" opacity="0.4"/>
<path d="M352.60 319.30L357.40 319.30M353.30 317.60L356.70 321.00M355.00 316.90L355.00 321.70M356.70 317.60L353.30 321.00" stroke="#3d5c88" stroke-width="0.8" fill="none"/>
<circle cx="355.00" cy="319.30" r="1.05" fill="#16263e"/>
<circle cx="350.00" cy="325.30" r="3.0" fill="#cfdcec" opacity="0.4"/>
<path d="M347.60 325.30L352.40 325.30M348.30 323.60L351.70 327.00M350.00 322.90L350.00 327.70M351.70 323.60L348.30 327.00" stroke="#3d5c88" stroke-width="0.8" fill="none"/>
<circle cx="350.00" cy="325.30" r="1.05" fill="#16263e"/>
<circle cx="351.60" cy="339.70" r="3.0" fill="#cfdcec" opacity="0.4"/>
<path d="M349.20 339.70L354.00 339.70M349.90 338.00L353.30 341.40M351.60 337.30L351.60 342.10M353.30 338.00L349.90 341.40" stroke="#3d5c88" stroke-width="0.8" fill="none"/>
<circle cx="351.60" cy="339.70" r="1.05" fill="#16263e"/>
<circle cx="406.60" cy="359.40" r="3.0" fill="#cfdcec" opacity="0.4"/>
<path d="M404.20 359.40L409.00 359.40M404.90 357.70L408.30 361.10M406.60 357.00L406.60 361.80M408.30 357.70L404.90 361.10" stroke="#3d5c88" stroke-width="0.8" fill="none"/>
<circle cx="406.60" cy="359.40" r="1.05" fill="#16263e"/>
<circle cx="428.20" cy="408.50" r="3.0" fill="#cfdcec" opacity="0.4"/>
<path d="M425.80 408.50L430.60 408.50M426.50 406.80L429.90 410.20M428.20 406.10L428.20 410.90M429.90 406.80L426.50 410.20" stroke="#3d5c88" stroke-width="0.8" fill="none"/>
<circle cx="428.20" cy="408.50" r="1.05" fill="#16263e"/>
<path d="M391.80 236.26L394.30 240.66L389.30 240.66Z" fill="#1c325d"/>
<path d="M405.00 259.46L407.50 263.86L402.50 263.86Z" fill="#1c325d"/>
<path d="M437.20 256.36L439.70 260.76L434.70 260.76Z" fill="#1c325d"/>
<path d="M427.90 268.06L430.40 272.46L425.40 272.46Z" fill="#1c325d"/>
<path d="M440.80 264.26L443.30 268.66L438.30 268.66Z" fill="#1c325d"/>
<path d="M412.00 278.96L414.50 283.36L409.50 283.36Z" fill="#1c325d"/>
<path d="M407.40 287.16L409.90 291.56L404.90 291.56Z" fill="#1c325d"/>
<path d="M419.50 289.46L422.00 293.86L417.00 293.86Z" fill="#1c325d"/>
<path d="M465.80 289.26L468.30 293.66L463.30 293.66Z" fill="#1c325d"/>
<path d="M505.20 397.76L507.70 402.16L502.70 402.16Z" fill="#1c325d"/>
<path d="M427.50 281.26L430.00 285.66L425.00 285.66Z" fill="#1d4a5a"/>
<path d="M423.40 254.06L425.90 258.46L420.90 258.46Z" fill="#c8102e"/>
<path d="M420.20 263.36L422.70 267.76L417.70 267.76Z" fill="#c8102e"/>
<path d="M414.00 281.66L416.50 286.06L411.50 286.06Z" fill="#c8102e"/>
<path d="M420.60 280.16L423.10 284.56L418.10 284.56Z" fill="#c8102e"/>
<rect x="0.5" y="0.5" width="519" height="450" fill="none" stroke="#555" stroke-width="1"/>
</svg>
</body></html>
